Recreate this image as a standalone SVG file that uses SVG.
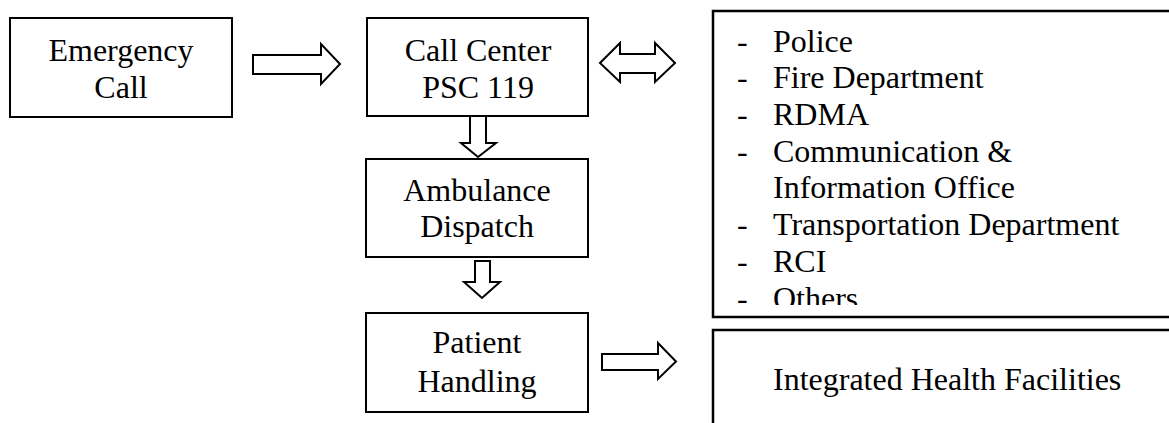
<svg xmlns="http://www.w3.org/2000/svg" width="1169" height="423" viewBox="0 0 1169 423">
<defs>
<style>
.box{fill:#fff;stroke:#000;stroke-width:2}
.wbox{fill:#fff;stroke:#000;stroke-width:2.5}
.arr{fill:#fff;stroke:#000;stroke-width:2;stroke-linejoin:miter}
.c{text-anchor:middle}
</style>
<clipPath id="clipList"><rect x="713" y="11" width="460" height="294"/></clipPath>
</defs>
<rect width="1169" height="423" fill="#fff"/>
<g font-family="'Liberation Serif', 'Times New Roman', 'DejaVu Serif', serif" font-size="32" fill="#000">
<g id="emergency-call">
<rect class="box" x="10" y="18" width="222" height="99"/>
<text class="c" x="121" y="61">Emergency</text>
<text class="c" x="121" y="98">Call</text>
</g>
<g id="call-center">
<rect class="box" x="367" y="18" width="221" height="98"/>
<text class="c" x="478" y="61">Call Center</text>
<text class="c" x="478" y="98">PSC 119</text>
</g>
<g id="ambulance-dispatch">
<rect class="box" x="366" y="159" width="222" height="98"/>
<text class="c" x="477" y="201">Ambulance</text>
<text class="c" x="477" y="237">Dispatch</text>
</g>
<g id="patient-handling">
<rect class="box" x="366" y="313" width="222" height="99"/>
<text class="c" x="477" y="353">Patient</text>
<text class="c" x="477" y="392">Handling</text>
</g>
<g id="agencies">
<rect class="wbox" x="713" y="11" width="470" height="306"/>
<g clip-path="url(#clipList)">
<text x="737" y="52">-</text><text x="773" y="52">Police</text>
<text x="737" y="88">-</text><text x="773" y="88">Fire Department</text>
<text x="737" y="125">-</text><text x="773" y="125">RDMA</text>
<text x="737" y="162">-</text><text x="773" y="162">Communication &amp;</text>
<text x="773" y="198">Information Office</text>
<text x="737" y="235">-</text><text x="773" y="235">Transportation Department</text>
<text x="737" y="272">-</text><text x="773" y="272">RCI</text>
<text x="737" y="309">-</text><text x="773" y="309">Others</text>
</g>
</g>
<g id="health-facilities">
<rect class="wbox" x="713" y="330" width="470" height="110"/>
<text x="773" y="390">Integrated Health Facilities</text>
</g>
</g>
<g id="connectors">
<path class="arr" d="M253,55 H321 V44 L340,64 L321,84 V74 H253 Z"/>
<path class="arr" d="M600,63 L620,43 V54 H655 V43 L675,63 L655,82 V73 H620 V82 Z"/>
<path class="arr" d="M470,116 H486 V143 H496 L478,157 L461,143 H470 Z"/>
<path class="arr" d="M475,261 H490 V282 H500 L482,298 L464,282 H475 Z"/>
<path class="arr" d="M602,354 H658 V343 L676,361.5 L658,379 V370 H602 Z"/>
</g>
</svg>
